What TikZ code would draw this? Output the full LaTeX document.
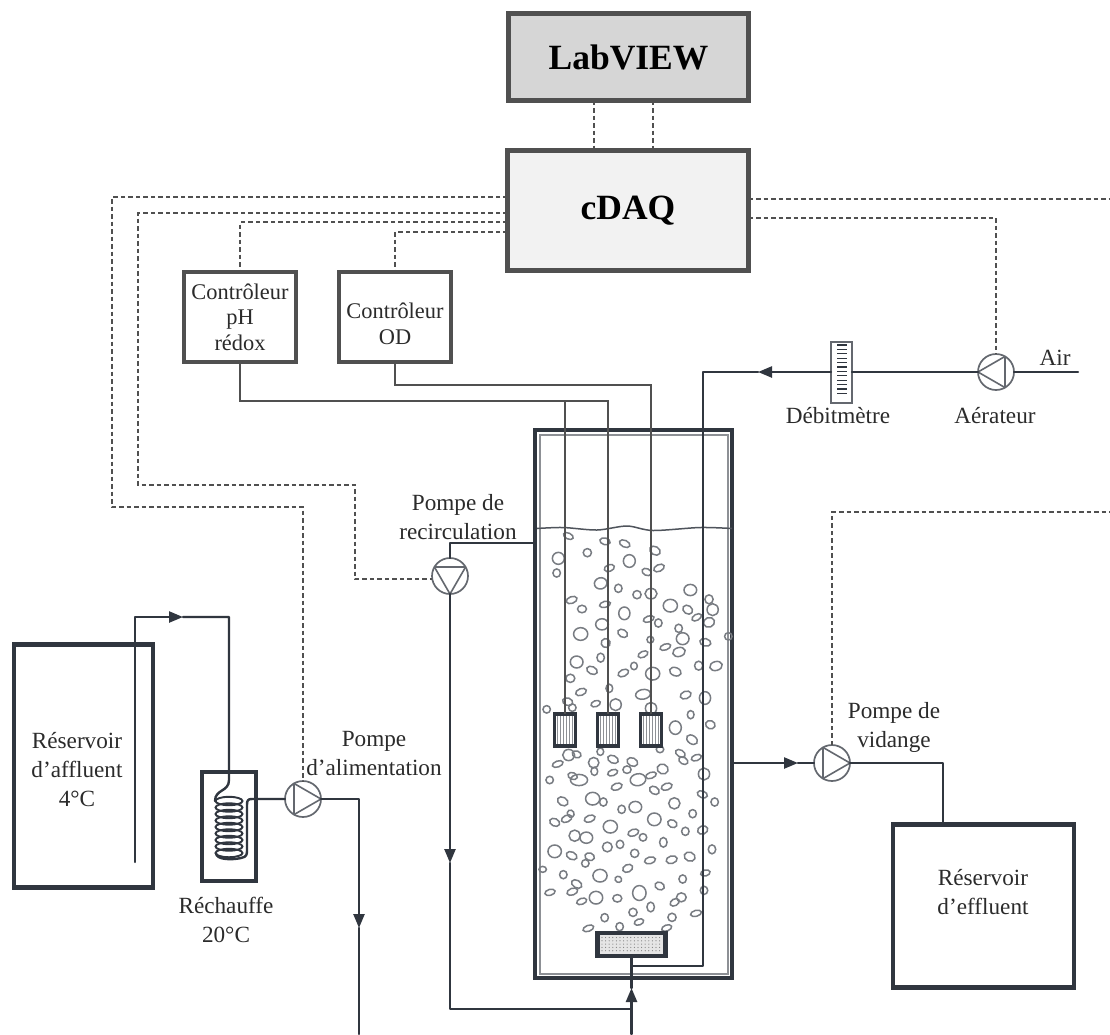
\documentclass[tikz,border=0pt]{standalone}
\usepackage{fontspec}
\setmainfont{Liberation Serif}
\usetikzlibrary{arrows.meta,calc}
\definecolor{ink}{HTML}{30363F}
\definecolor{txt}{HTML}{2B2B2B}
\definecolor{ctlgray}{HTML}{505050}
\definecolor{boxedge}{HTML}{505050}
\tikzset{
  x=1pt,y=-1pt,
  every node/.style={inner sep=0pt,outer sep=0pt,text=txt},
  lbl/.style={font=\fontsize{23.2}{29}\selectfont,align=center},
  ctrlbl/.style={font=\fontsize{22.4}{25.5}\selectfont,align=center},
  bigbox/.style={draw=boxedge,line width=5pt,font=\fontsize{35.5}{40}\bfseries\selectfont,text=black},
  ctrbox/.style={draw=boxedge,line width=4.5pt,fill=white},
  tank/.style={draw=ink,line width=4.2pt,fill=white},
  sensorbox/.style={draw=ink,line width=3.5pt,fill=white,minimum width=21,minimum height=32},
  tube/.style={draw=ink,line width=2.4pt,line cap=round,line join=round},
  flow/.style={tube,-{Triangle[length=14pt,width=11pt]}},
  wire/.style={draw=ctlgray,line width=1.6pt},
  ctl/.style={draw=ctlgray,line width=1.5pt,dash pattern=on 4.5pt off 3pt},
  pumpc/.style={circle,draw=ink!75,line width=1.7pt,fill=white,minimum size=36},
  pumpl/.style={draw=ink!75,line width=1.6pt,line join=round},
  bub/.style={draw=ink!65,line width=1.5pt},
}
\newcommand\pumpnode[3]{%
  \node[pumpc] (#1) at (#2) {};
  \draw[pumpl,shift={(#1.center)},rotate=#3] (0:18) -- (120:18) -- (240:18) -- cycle;
}
\newcommand\bubA{145/348/14/8/-25,255/364/14/9/-15,314/371/15/9/-25,405/392/15/11/-30,202/398/11/11/0,115/415/16/16/0,328/423/16/17/0,268/444/14/9/20,110/459/10/11/0,380/456/13/9/-25,417/444/15/9/25,242/490/17/15/15,295/505/10/11/0,351/524/11/11/0,393/521/16/14/0,511/510/17/15/0,155/540/15/9/20,186/567/12/10/0,255/553/15/8/15,313/580/15/17/0,451/557/19/17/0,503/569/14/11/-35,567/538/11/12/0,578/569/15/16/0,530/592/14/8/30,567/607/15/13/20,386/597/15/8/20,415/609/10/11/0,246/613/17/15/0,182/642/19/17/0,308/640/14/10/-30,476/625/10/11/0,488/656/17/16/0,391/659/9/9/0,257/669/12/12/-30,556/667/15/10/-15,625/649/10/10/0,436/681/15/8/20,477/696/17/12/15,369/703/14/8/25,242/713/10/12/0,170/726/17/16/0,216/751/15/10/-25,342/738/9/10/0,310/759/15/9/25,398/761/19/17/0,466/755/16/11/-20,536/737/11/12/0,588/738/17/12/15,151/775/12/11/0,268/805/9/11/0,183/816/15/9/20,369/823/20/13/10,497/825/15/10/20,555/834/15/17/0,143/845/14/10/-20,80/868/10/10/0,157/863/10/10/0,227/851/13/8/20,287/854/15/16/0,393/865/15/16/0,512/884/9/11/0}
\newcommand\bubB{466/83/16/18/0,571/74/13/11/-20,516/119/16/11/-35,146/165/16/15/0,170/163/12/9/-20,113/192/15/8/20,241/155/9/10/0,279/178/15/10/-25,337/186/15/11/-25,420/148/10/9/0,481/160/14/9/-30,490/182/13/9/-30,529/173/14/8/20,221/188/14/14/0,223/214/9/11/0,428/207/15/13/-20,552/222/15/16/0,89/240/10/10/0,158/228/13/9/-20,177/240/23/15/0,278/218/14/8/20,321/209/11/10/0,354/239/21/16/10,393/226/15/8/20,290/260/15/9/20,403/271/14/10/-30,440/260/15/9/20,547/283/14/9/-20,584/306/10/11/0,128/304/15/11/-30,218/296/19/17/0,250/306/10/11/0,463/310/15/15/0,305/328/10/11/0,346/321/17/15/0,518/341/10/11/0,152/341/9/10/30,140/356/15/9/25,104/367/14/10/-25,209/356/15/9/20,403/358/18/17/0,271/380/19/17/0,457/371/13/10/-25,340/398/15/9/20,548/390/14/11/20,496/394/10/11/0,164/407/15/15/0,199/413/17/15/0,369/412/10/10/0,262/441/13/13/0,300/433/10/11/0,430/427/10/13/0,104/454/18/17/0,155/467/15/10/-25,209/470/13/10/-20,344/460/11/11/0,576/448/10/12/0,196/490/10/10/0,390/481/15/9/15,455/479/15/10/15,509/470/15/12/-20,323/505/14/10/25,68/508/10/8/0,556/519/13/8/15,130/524/10/11/0,240/527/19/17/0,295/538/9/8/-30,488/537/10/11/0,170/552/15/10/-30,419/558/13/10/-25,157/575/15/9/20,90/577/14/8/15,552/571/10/11/0,358/579/18/20/0,228/593/18/17/0,292/595/12/10/0,185/604/14/8/20,484/592/13/12/0,464/607/13/9/30,392/621/10/13/0,528/640/15/8/15,339/637/11/11/0,456/652/11/11/0,254/653/10/11/0,357/666/13/8/20,205/685/15/8/20,299/680/10/11/0,440/684/14/8/20}
\begin{document}
\begin{tikzpicture}
\useasboundingbox (0,0) rectangle (1110,1034);
\fill[white] (0,0) rectangle (1110,1034);

% Boxes
\node[bigbox,fill=black!16,minimum width=240,minimum height=87] (lab) at (628.5,57) {LabVIEW};
\node[bigbox,fill=black!5,minimum width=241,minimum height=120] (cdaq) at (628,210.5) {cDAQ};
\node[ctrbox,ctrlbl,minimum width=112,minimum height=90] (ph) at (240,317) {Contrôleur\\pH\\rédox};
\node[ctrbox,minimum width=112,minimum height=90] (od) at (395,317) {};
\node[ctrlbl] (odt) at (395,324) {Contrôleur\\OD};

% Reactor
\node[draw=ink,line width=4.5pt,fill=white,minimum width=197,minimum height=548] (reactor) at (633.5,704) {};
\node[draw=ink!55,line width=2pt,minimum width=188,minimum height=539] (inner) at (634,704) {};
\foreach \x/\y/\a/\b/\r in \bubA
  \draw[bub] ({520+\x/3},{420+\y/3}) ellipse [x radius={\a/3*1.12pt},y radius={\b/3*1.12pt},rotate=\r];
\foreach \x/\y/\a/\b/\r in \bubB
  \draw[bub] ({520+\x/3},{700+\y/3}) ellipse [x radius={\a/3*1.12pt},y radius={\b/3*1.12pt},rotate=\r];
\draw[ink!85,line width=1.5pt] plot[smooth] coordinates {(537,528.5) (563,527.5) (597,530) (627,526) (653,530.5) (700,527.5) (732,528.5)};

% Sensors
\foreach \n/\cx in {s1/565,s2/608,s3/651}{
  \node[sensorbox] (\n) at (\cx,730) {};
  \foreach \d in {-7.5,-4.5,...,7.5}
    \draw[ink!55,line width=1.7pt] (\cx+\d,716) -- (\cx+\d,744);
}
% Diffuser
\node[draw=ink,line width=4.5pt,fill=black!10,minimum width=68,minimum height=23] (diff) at (631.5,944.5) {};
\foreach \i in {0,...,16}
  \foreach \j in {0,...,4}
    \fill[black!50] (602+3.6*\i,937.5+3.3*\j) circle (0.6pt);

% Other tanks
\node[tank,minimum width=139,minimum height=243] (inf) at (83.5,766) {};
\node[tank,minimum width=54,minimum height=109] (heat) at (229,826.5) {};
\node[tank,minimum width=181,minimum height=163] (eff) at (983.5,906) {};
\node[draw=ink!75,line width=1.5pt,fill=white,minimum width=21,minimum height=61] (meter) at (841.5,372.5) {};
\draw[ink,line width=1.8pt] (837,345) -- (847,345);
\foreach \i in {1,...,11}
  \draw[ink,line width=1.2pt] (837,345+4.4*\i) -- (847,345+4.4*\i);

% Pumps
\pumpnode{pa}{303,799}{0}
\pumpnode{rc}{450,576}{-90}
\pumpnode{pv}{832,763}{0}
\pumpnode{ae}{996,372}{180}

% Text
\node[lbl] (t1) at (77,769.5) {Réservoir\\d’affluent\\4°C};
\node[lbl] (t2) at (226,919.5) {Réchauffe\\20°C};
\node[lbl] (t3) at (374,754) {Pompe\\d’alimentation};
\node[lbl] (t4) at (458,517) {Pompe de\\recirculation};
\node[lbl] (t5) at (894,727) {Pompe de\\vidange};
\node[lbl] (t6) at (983,892) {Réservoir\\d’effluent};
\node[lbl] (t7) at (838,416) {Débitmètre};
\node[lbl] (t8) at (995,416) {Aérateur};
\node[lbl] (t9) at (1055,358) {Air};

% Control lines
\draw[ctl] (lab.south -| 594,0) -- (cdaq.north -| 594,0);
\draw[ctl] (lab.south -| 653,0) -- (cdaq.north -| 653,0);
\draw[ctl] (cdaq.west |- 0,197) -- (112,197) -- (112,507) -| (pa.north);
\draw[ctl] (cdaq.west |- 0,213) -- (138,213) -- (138,485) -- (355,485) |- (rc.190);
\draw[ctl] (cdaq.west |- 0,222) -| (ph.north);
\draw[ctl] (cdaq.west |- 0,232) -| (od.north);
\draw[ctl] (cdaq.east |- 0,199) -- (1110,199);
\draw[ctl] (cdaq.east |- 0,218) -| (ae.north);
\draw[ctl] (pv.north) -- (832,512) -- (1110,512);

% Sensor wires
\draw[wire] (ph.south) |- (s2.north |- 0,401) -- (s2.north);
\draw[wire] (s1.north |- 0,401) -- (s1.north);
\draw[wire] (od.south) |- (s3.north |- 0,385) -- (s3.north);

% Air line
\coordinate (airin) at (1078,372);
\coordinate (airtip) at (758,372);
\coordinate (airjoin) at (631.5,966);
\draw[tube] (airin) -- (ae.east);
\draw[tube] (ae.west) -- (meter.east |- ae.west);
\draw[flow] (meter.west |- ae.west) -- (airtip);
\draw[tube] (airtip) -- (703,372) -- (703,966) -- (airjoin);

% Reactor feed
\coordinate (feed) at (631.5,1034);
\coordinate (feedtip) at (631.5,988);
\draw[flow] (feed) -- (feedtip);
\draw[tube] (feedtip) -- (diff.south);

% Recirculation
\coordinate (rctip) at (450,863);
\draw[tube] (reactor.west |- 0,543) -- (450,543) -- (rc.north);
\draw[flow] (rc.south) -- (rctip);
\draw[tube] (rctip) -- (450,1009) -- (feed |- 0,1009);

% Drain
\coordinate (pvtip) at (798,763);
\draw[flow] (reactor.east |- pv.west) -- (pvtip);
\draw[tube] (pvtip) -- (pv.west);
\draw[tube] (pv.east) -- (943,763) -- (943,823.5);

% Influent
\coordinate (inflow) at (135,862);
\coordinate (inftip) at (183,617);
\coordinate (alimtip) at (359,928);
\coordinate (alimend) at (359,1034);
\draw[flow] (inflow) -- (135,617) -- (inftip);
\draw[tube] (inftip) -- (229,617) -- (229,780)
  .. controls (229,792) and (215,789) .. (215,801);
\foreach \i in {0,...,8}
  \draw[ink,line width=1.9pt] (229,801+6.5*\i) ellipse [x radius=13.5pt,y radius=4.2pt];
\draw[tube] (216,853) .. controls (216,860) and (232,860) .. (241,858)
  .. controls (247,857) and (247,854) .. (247,850) -- (247,805)
  .. controls (247,800) and (248,799) .. (252,799) -- (pa.west);
\draw[flow] (pa.east) -- (359,799) -- (alimtip);
\draw[tube] (alimtip) -- (alimend);
\end{tikzpicture}
\end{document}
